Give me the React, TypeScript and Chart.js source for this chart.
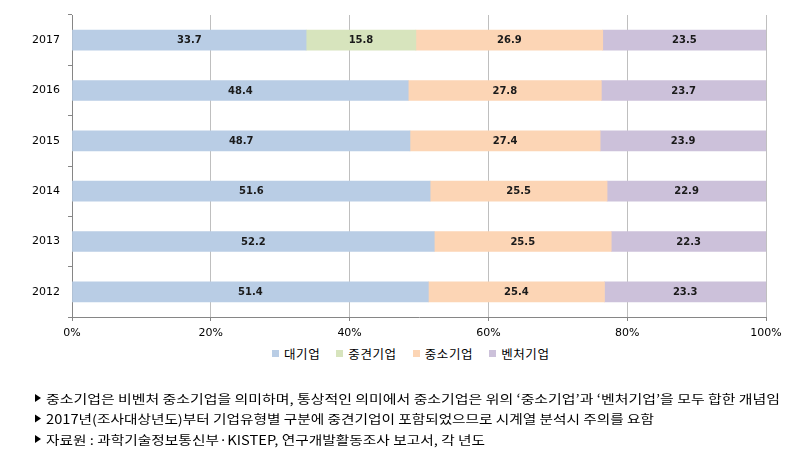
import React, { useEffect, useRef } from "react";
import { Chart, registerables } from "chart.js";

Chart.register(...registerables);

const years = ["2017", "2016", "2015", "2014", "2013", "2012"];
const seriesNames = ["대기업", "중견기업", "중소기업", "벤처기업"];
const large = [33.7, 48.4, 48.7, 51.6, 52.2, 51.4];
const midsize = [15.8, null, null, null, null, null];
const small = [26.9, 27.8, 27.4, 25.5, 25.5, 25.4];
const venture = [23.5, 23.7, 23.9, 22.9, 22.3, 23.3];
const colors = ["#b9cde5", "#d7e4bd", "#fcd5b5", "#ccc1da"];
const xTicks = [0, 20, 40, 60, 80, 100];
const notes = [
  "중소기업은 비벤처 중소기업을 의미하며, 통상적인 의미에서 중소기업은 위의 ‘중소기업’과 ‘벤처기업’을 모두 합한 개념임",
  "2017년(조사대상년도)부터 기업유형별 구분에 중견기업이 포함되었으므로 시계열 분석시 주의를 요함",
  "자료원 : 과학기술정보통신부·KISTEP, 연구개발활동조사 보고서, 각 년도",
];
const noteWidths = [734, 608, 439];

const rawSeries = [large, midsize, small, venture];

const totals = years.map((_, i) =>
  rawSeries.reduce((s, arr) => s + (arr[i] == null ? 0 : (arr[i] as number)), 0)
);

const labelPlugin = {
  id: "segLabels",
  afterDatasetsDraw(chart: any) {
    const ctx = chart.ctx;
    ctx.save();
    ctx.font = "bold 10px 'DejaVu Sans'";
    ctx.fillStyle = "#1a1a1a";
    ctx.textAlign = "center";
    ctx.textBaseline = "middle";
    chart.data.datasets.forEach((ds: any, di: number) => {
      const meta = chart.getDatasetMeta(di);
      meta.data.forEach((el: any, i: number) => {
        const raw = ds.rawValues[i];
        if (raw == null) return;
        const p = el.getProps(["x", "y", "base"], true);
        ctx.fillText(raw.toFixed(1), (p.x + p.base) / 2, p.y + 0.5);
      });
    });
    ctx.restore();
  },
};

export default function App() {
  const ref = useRef<HTMLCanvasElement | null>(null);

  useEffect(() => {
    if (!ref.current) return;
    const datasets = rawSeries.map((arr, di) => ({
      label: seriesNames[di],
      data: arr.map((v, i) => (v == null ? null : ((v as number) / totals[i]) * 100)),
      rawValues: arr,
      backgroundColor: colors[di],
      borderWidth: 0,
      barThickness: 20,
    }));
    const chart = new Chart(ref.current, {
      type: "bar",
      data: { labels: years, datasets: datasets as any },
      plugins: [labelPlugin],
      options: {
        indexAxis: "y",
        animation: false,
        responsive: false,
        events: [],
        layout: { padding: { top: 15, right: 43, left: 0, bottom: 0 } },
        plugins: {
          tooltip: { enabled: false },
          legend: { display: false },
        },
        scales: {
          x: {
            stacked: true,
            min: 0,
            max: 100,
            afterBuildTicks: (scale: any) => {
              scale.ticks = xTicks.map((v) => ({ value: v }));
            },
            afterFit: (scale: any) => {
              scale.height = 25;
            },
            ticks: {
              callback: (v: any) => v + "%",
              color: "#000",
              padding: 6,
              font: { size: 11, family: "'DejaVu Sans'" },
            },
            grid: { color: "#bfbfbf", tickLength: 4, tickColor: "#868686" },
            border: { color: "#868686" },
          },
          y: {
            stacked: true,
            afterFit: (scale: any) => {
              scale.width = 72;
            },
            ticks: {
              color: "#000",
              padding: 8,
              font: { size: 11, family: "'DejaVu Sans'" },
            },
            grid: {
              drawOnChartArea: false,
              tickLength: 4,
              color: "#868686",
            },
            border: { color: "#868686" },
          },
        },
      } as any,
    });
    return () => chart.destroy();
  }, []);

  return (
    <div
      style={{
        position: "fixed",
        left: 0,
        top: 0,
        width: 809,
        height: 462,
        background: "#fff",
        overflow: "hidden",
      }}
    >
      <canvas
        ref={ref}
        width={809}
        height={342}
        style={{ position: "absolute", left: 0, top: 0, width: 809, height: 342 }}
      />
      <div
        style={{
          position: "absolute",
          left: 272,
          top: 344,
          height: 18,
          display: "flex",
          alignItems: "center",
          gap: 16,
          fontFamily: "'Noto Sans CJK KR'",
          fontSize: 12.5,
          letterSpacing: 0.6,
          color: "#000",
          whiteSpace: "nowrap",
        }}
      >
        {seriesNames.map((n, i) => (
          <div key={n} style={{ display: "flex", alignItems: "center" }}>
            <span
              style={{
                display: "inline-block",
                width: 7,
                height: 7,
                background: colors[i],
                marginRight: 5,
              }}
            />
            <span>{n}</span>
          </div>
        ))}
      </div>
      <svg
        width={809}
        height={462}
        style={{ position: "absolute", left: 0, top: 0, pointerEvents: "none" }}
      >
        {notes.map((t, i) => {
          const cy = 398 + i * 20.5;
          return (
            <g key={i}>
              <polygon
                points={`35,${cy - 4} 41,${cy} 35,${cy + 4}`}
                fill="#000"
              />
              <text
                x={46}
                y={cy}
                dominantBaseline="central"
                fontFamily="'Noto Sans CJK KR'"
                fontSize={12.5}
                fill="#000"
                textLength={noteWidths[i]}
                lengthAdjust="spacingAndGlyphs"
              >
                {t}
              </text>
            </g>
          );
        })}
      </svg>
    </div>
  );
}
